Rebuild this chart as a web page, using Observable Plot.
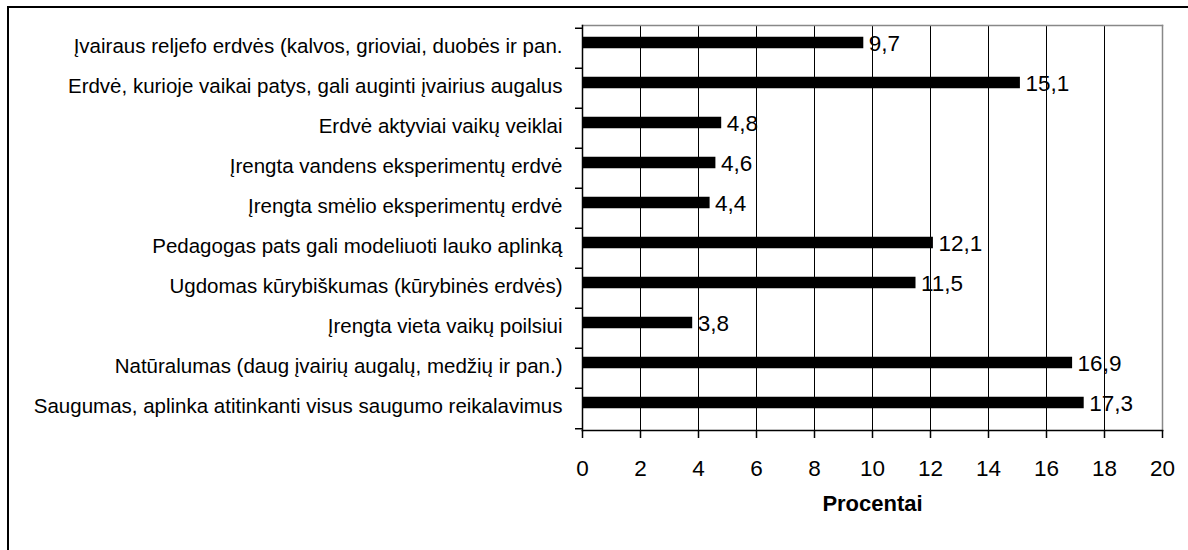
<!DOCTYPE html>
<html>
<head>
<meta charset="utf-8">
<script src="https://cdn.jsdelivr.net/npm/d3@7"></script>
<script src="https://cdn.jsdelivr.net/npm/@observablehq/plot@0.6"></script>
<style>
  html, body { margin: 0; padding: 0; background: #fff; overflow: hidden; width: 1188px; height: 550px; }
  #outer { position: absolute; left: 7px; top: 6px; width: 1300px; height: 700px; border: 2px solid #000; box-sizing: border-box; }
  #chart { position: absolute; left: 0; top: 0; }
</style>
</head>
<body>
<div id="outer"></div>
<div id="chart"></div>
<script>
const categories = [
  "Įvairaus reljefo erdvės (kalvos, grioviai, duobės ir pan.",
  "Erdvė, kurioje vaikai patys, gali auginti įvairius augalus",
  "Erdvė aktyviai vaikų veiklai",
  "Įrengta vandens eksperimentų erdvė",
  "Įrengta smėlio eksperimentų erdvė",
  "Pedagogas pats gali modeliuoti lauko aplinką",
  "Ugdomas kūrybiškumas (kūrybinės erdvės)",
  "Įrengta vieta vaikų poilsiui",
  "Natūralumas (daug įvairių augalų, medžių ir pan.)",
  "Saugumas, aplinka atitinkanti visus saugumo reikalavimus"
];
const values = [9.7, 15.1, 4.8, 4.6, 4.4, 12.1, 11.5, 3.8, 16.9, 17.3];
const valueLabels = ["9,7", "15,1", "4,8", "4,6", "4,4", "12,1", "11,5", "3,8", "16,9", "17,3"];
const xTicks = [0, 2, 4, 6, 8, 10, 12, 14, 16, 18, 20];
const gridTicks = [2, 4, 6, 8, 10, 12, 14, 16, 18];
const axisTitle = "Procentai";

const data = categories.map((c, i) => ({cat: c, v: values[i], label: valueLabels[i]}));

const W = 1188, H = 550;
const mL = 582, mR = 26, mT = 25, mB = 120;
const band = (H - mT - mB) / categories.length;
const frameW = W - mL - mR;

const chart = Plot.plot({
  width: W,
  height: H,
  marginLeft: mL,
  marginRight: mR,
  marginTop: mT,
  marginBottom: mB,
  style: {fontFamily: "'Liberation Sans', Arial, sans-serif", fontSize: "18px", color: "#000", background: "transparent", overflow: "visible"},
  x: {domain: [0, 20]},
  y: {domain: categories, padding: 0},
  marks: [
    Plot.gridX(gridTicks, {stroke: "#000", strokeOpacity: 1, strokeWidth: 1}),
    Plot.frame({anchor: "top", stroke: "#888", strokeWidth: 1.5}),
    Plot.frame({anchor: "right", stroke: "#888", strokeWidth: 1.5}),
    Plot.barX(data, {x: "v", y: "cat", fill: "#000", insetTop: band / 2 - 6, insetBottom: band / 2 - 6, dy: -5.5}),
    Plot.frame({anchor: "bottom", stroke: "#000", strokeWidth: 1.5}),
    Plot.frame({anchor: "left", stroke: "#000", strokeWidth: 1.5}),
    Plot.tickY(categories, {y: d => d, dy: -band / 2, dx: -7, insetRight: frameW - 7, stroke: "#000", strokeWidth: 1.5}),
    Plot.tickY(categories.slice(-1), {y: d => d, dy: band / 2, dx: -7, insetRight: frameW - 7, stroke: "#000", strokeWidth: 1.5}),
    Plot.axisY({tickSize: 0, tickPadding: 20, fontSize: 20.5, dy: -2, label: null}),
    Plot.axisX({ticks: xTicks, tickSize: 8, tickPadding: 22, fontSize: 22.5, label: null, strokeWidth: 1.5}),
    Plot.text(data, {x: "v", y: "cat", text: "label", textAnchor: "start", dx: 5, dy: -5, fontSize: 22.5, fill: "#000"}),
    Plot.text([axisTitle], {frameAnchor: "bottom", dy: 80, text: d => d, fontSize: 22, fontWeight: "bold", fill: "#000"})
  ]
});
document.getElementById("chart").appendChild(chart);
</script>
</body>
</html>
